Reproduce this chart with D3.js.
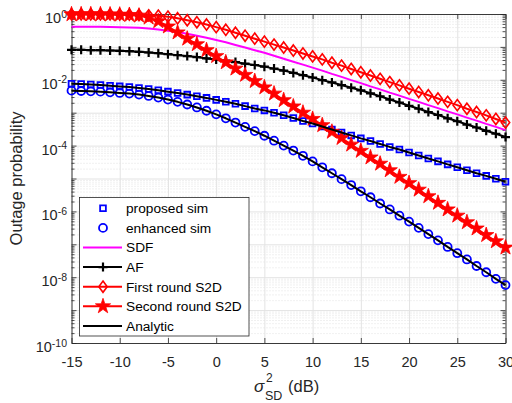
<!DOCTYPE html>
<html>
<head>
<meta charset="utf-8">
<script src="https://cdnjs.cloudflare.com/ajax/libs/d3/7.8.5/d3.min.js"></script>
<style>
  body { margin: 0; background: #fff; }
  svg { display: block; font-family: "Liberation Sans", Arial, Helvetica, sans-serif; }
</style>
</head>
<body>
<div id="chart-area"></div>
<script>
// x axis: sigma^2_SD in dB
const snrDb = [-15,-14,-13,-12,-11,-10,-9,-8,-7,-6,-5,-4,-3,-2,-1,0,1,2,3,4,5,6,7,8,9,10,
               11,12,13,14,15,16,17,18,19,20,21,22,23,24,25,26,27,28,29,30];

// log10 of outage probability
const logProposed = [-2.12,-2.13,-2.14,-2.16,-2.18,-2.20,-2.22,-2.25,-2.28,-2.32,
                     -2.36,-2.40,-2.45,-2.50,-2.55,-2.61,-2.67,-2.73,-2.80,-2.87,
                     -2.93,-3.00,-3.08,-3.16,-3.25,-3.33,-3.42,-3.51,-3.60,-3.69,
                     -3.78,-3.86,-3.95,-4.04,-4.12,-4.21,-4.30,-4.39,-4.48,-4.57,
                     -4.66,-4.75,-4.84,-4.92,-5.01,-5.10];
const logEnhanced = [-2.33,-2.34,-2.35,-2.36,-2.38,-2.40,-2.42,-2.45,-2.49,-2.54,
                     -2.60,-2.67,-2.75,-2.84,-2.94,-3.05,-3.17,-3.30,-3.43,-3.56,
                     -3.70,-3.85,-4.00,-4.15,-4.31,-4.48,-4.66,-4.84,-5.02,-5.20,
                     -5.39,-5.57,-5.76,-5.94,-6.13,-6.31,-6.50,-6.69,-6.88,-7.08,
                     -7.27,-7.46,-7.66,-7.85,-8.05,-8.24];
const logSDF = [-0.39,-0.39,-0.39,-0.39,-0.395,-0.40,-0.41,-0.42,-0.44,-0.47,
                -0.51,-0.55,-0.60,-0.66,-0.72,-0.79,-0.86,-0.94,-1.02,-1.10,
                -1.18,-1.27,-1.36,-1.45,-1.54,-1.63,-1.72,-1.82,-1.91,-2.01,
                -2.10,-2.20,-2.29,-2.39,-2.48,-2.58,-2.67,-2.77,-2.86,-2.96,
                -3.05,-3.15,-3.24,-3.34,-3.43,-3.53];
const logAF = [-1.09,-1.09,-1.10,-1.10,-1.11,-1.12,-1.13,-1.15,-1.17,-1.19,
               -1.22,-1.25,-1.28,-1.31,-1.35,-1.38,-1.42,-1.46,-1.51,-1.55,
               -1.60,-1.66,-1.72,-1.79,-1.86,-1.93,-2.01,-2.08,-2.16,-2.24,
               -2.32,-2.41,-2.50,-2.60,-2.69,-2.79,-2.88,-2.98,-3.07,-3.17,
               -3.26,-3.36,-3.45,-3.55,-3.64,-3.74];
const logFirst = [-0.01,-0.01,-0.01,-0.01,-0.01,-0.015,-0.02,-0.03,-0.04,-0.05,
                  -0.08,-0.13,-0.19,-0.25,-0.32,-0.40,-0.48,-0.57,-0.66,-0.75,
                  -0.84,-0.93,-1.02,-1.11,-1.20,-1.29,-1.38,-1.48,-1.57,-1.67,
                  -1.77,-1.87,-1.97,-2.07,-2.17,-2.27,-2.37,-2.47,-2.57,-2.67,
                  -2.77,-2.88,-2.98,-3.08,-3.19,-3.30];
const logSecond = [-0.01,-0.01,-0.01,-0.01,-0.015,-0.02,-0.03,-0.05,-0.11,-0.22,
                   -0.38,-0.56,-0.75,-0.92,-1.10,-1.28,-1.47,-1.66,-1.85,-2.04,
                   -2.23,-2.42,-2.62,-2.81,-3.00,-3.19,-3.38,-3.58,-3.77,-3.97,
                   -4.16,-4.36,-4.55,-4.75,-4.95,-5.14,-5.34,-5.54,-5.74,-5.94,
                   -6.13,-6.33,-6.52,-6.72,-6.91,-7.10];

const xTicks = [-15,-10,-5,0,5,10,15,20,25,30];
const yDecades = [1e0,1e-1,1e-2,1e-3,1e-4,1e-5,1e-6,1e-7,1e-8,1e-9,1e-10];
const yLabelExp = [0,-2,-4,-6,-8,-10];
const legendNames = ["proposed sim","enhanced sim","SDF","AF","First round S2D","Second round S2D","Analytic"];

const width = 512, height = 403;
const plot = {left: 71.5, right: 505.5, top: 14, bottom: 343};
const axisColor = "#262626";

let svg = d3.select("#chart-area").append("svg")
    .attr("width", width).attr("height", height);

let x = d3.scaleLinear().domain([-15, 30]).range([plot.left, plot.right]);
let y = d3.scaleLog().domain([1e-10, 1]).range([plot.bottom, plot.top]);

const toPts = arr => arr.map((v, i) => ({x: snrDb[i], p: Math.pow(10, v)}));

// minor log ticks from the scale itself
let minorTicks = y.ticks(20).filter(t => Math.abs(Math.log10(t) - Math.round(Math.log10(t))) > 1e-6);

// ---- grid
let grid = svg.append("g");
grid.append("g")
    .attr("transform", `translate(${plot.left},0)`)
    .call(d3.axisLeft(y).tickValues(minorTicks).tickSize(-(plot.right - plot.left)).tickFormat(""))
    .call(g => g.select(".domain").remove())
    .selectAll("line").attr("stroke", "#cfcfcf").attr("stroke-width", 0.6).attr("stroke-dasharray", "1,2");
grid.append("g")
    .attr("transform", `translate(${plot.left},0)`)
    .call(d3.axisLeft(y).tickValues(yDecades).tickSize(-(plot.right - plot.left)).tickFormat(""))
    .call(g => g.select(".domain").remove())
    .selectAll("line").attr("stroke", "#e3e3e3").attr("stroke-width", 1);
grid.append("g")
    .attr("transform", `translate(0,${plot.bottom})`)
    .call(d3.axisBottom(x).tickValues(xTicks).tickSize(-(plot.bottom - plot.top)).tickFormat(""))
    .call(g => g.select(".domain").remove())
    .selectAll("line").attr("stroke", "#e3e3e3").attr("stroke-width", 1);

// ---- axes (ticks inward)
function styleAxis(g) {
    g.select(".domain").attr("stroke", axisColor).attr("stroke-width", 0.9);
    g.selectAll(".tick line").attr("stroke", axisColor).attr("stroke-width", 0.8);
}
let bottomAxis = svg.append("g")
    .attr("transform", `translate(0,${plot.bottom})`)
    .call(d3.axisBottom(x).tickValues(xTicks).tickSizeInner(-5).tickSizeOuter(0).tickPadding(0)
          .tickFormat(d => String(d)))
    .call(styleAxis);
bottomAxis.selectAll(".tick text")
    .attr("y", 23.5).attr("dy", null)
    .attr("fill", axisColor).style("font-size", "14.5px").style("font-family", "inherit");

svg.append("g")
    .attr("transform", `translate(0,${plot.top})`)
    .call(d3.axisTop(x).tickValues(xTicks).tickSizeInner(-5).tickSizeOuter(0).tickFormat(""))
    .call(styleAxis);

svg.append("g")
    .attr("transform", `translate(${plot.left},0)`)
    .call(d3.axisLeft(y).tickValues(yDecades).tickSizeInner(-5).tickSizeOuter(0).tickFormat(""))
    .call(styleAxis);
svg.append("g")
    .attr("transform", `translate(${plot.left},0)`)
    .call(d3.axisLeft(y).tickValues(minorTicks).tickSizeInner(-3).tickSizeOuter(0).tickFormat(""))
    .call(styleAxis).select(".domain").remove();
svg.append("g")
    .attr("transform", `translate(${plot.right},0)`)
    .call(d3.axisRight(y).tickValues(yDecades).tickSizeInner(-5).tickSizeOuter(0).tickFormat(""))
    .call(styleAxis);
svg.append("g")
    .attr("transform", `translate(${plot.right},0)`)
    .call(d3.axisRight(y).tickValues(minorTicks).tickSizeInner(-3).tickSizeOuter(0).tickFormat(""))
    .call(styleAxis).select(".domain").remove();

// y tick labels 10^k
let yLab = svg.append("g").attr("fill", axisColor);
yLabelExp.forEach(function(k) {
    let t = yLab.append("text")
        .attr("x", plot.left - 4.5)
        .attr("y", y(Math.pow(10, k)) + 9)
        .attr("text-anchor", "end")
        .style("font-size", "14.5px");
    t.append("tspan").text("10");
    t.append("tspan").attr("dy", -5.5).style("font-size", "10.5px").text(k === 0 ? "0" : "-" + Math.abs(k));
});

// axis titles
svg.append("text")
    .attr("transform", `translate(22,${(plot.top + plot.bottom) / 2}) rotate(-90)`)
    .attr("text-anchor", "middle")
    .attr("fill", axisColor)
    .style("font-size", "16.5px")
    .text("Outage probability");

let xl = svg.append("g").attr("fill", axisColor);
xl.append("text").attr("x", 254).attr("y", 392).style("font-size", "17px").style("font-style", "italic").text("σ");
xl.append("text").attr("x", 266).attr("y", 382).style("font-size", "12px").text("2");
xl.append("text").attr("x", 265).attr("y", 399.5).style("font-size", "12.5px").text("SD");
xl.append("text").attr("x", 288).attr("y", 392).style("font-size", "16.5px").text("(dB)");

// ---- series
const blue = "#0000ff", red = "#ff0000", magenta = "#ff00ff";
let line = d3.line().x(d => x(d.x)).y(d => y(d.p));

const diamondPath = "M0,-5.6L4.2,0L0,5.6L-4.2,0Z";
const plusPath = "M-4.5,0H4.5M0,-4.5V4.5";
let starSym = d3.symbol(d3.symbolStar).size(72)();
let squareSym = d3.symbol(d3.symbolSquare).size(33)();

function drawMarkers(data, path, stroke, fill, sw) {
    svg.append("g").selectAll("path")
        .data(data)
        .enter()
        .append("path")
        .attr("transform", d => `translate(${x(d.x)},${y(d.p)})`)
        .attr("d", path)
        .attr("fill", fill)
        .attr("stroke", stroke)
        .attr("stroke-width", sw);
}
function drawLine(data, color) {
    svg.append("path").datum(data)
        .attr("d", line).attr("fill", "none")
        .attr("stroke", color).attr("stroke-width", 2)
        .attr("stroke-linejoin", "round");
}

let proposed = toPts(logProposed);
let enhanced = toPts(logEnhanced);

drawMarkers(proposed, squareSym, blue, "none", 1.8);
svg.append("g").selectAll("circle")
    .data(enhanced)
    .enter()
    .append("circle")
    .attr("cx", d => x(d.x)).attr("cy", d => y(d.p)).attr("r", 4)
    .attr("fill", "none").attr("stroke", blue).attr("stroke-width", 1.8);

drawLine(toPts(logSDF), magenta);

drawLine(toPts(logAF), "#000");
drawMarkers(toPts(logAF), plusPath, "#000", "none", 2.2);

drawLine(toPts(logFirst), red);
drawMarkers(toPts(logFirst), diamondPath, red, "none", 1.6);

drawLine(toPts(logSecond), red);
drawMarkers(toPts(logSecond), starSym, red, red, 0.8);

// analytic curves
drawLine(proposed, "#000");
drawLine(enhanced, "#000");

// ---- legend
let lg = svg.append("g");
lg.append("rect")
    .attr("x", 79.5).attr("y", 197.5).attr("width", 169.5).attr("height", 138.5)
    .attr("fill", "#fff").attr("stroke", axisColor).attr("stroke-width", 0.8);

legendNames.forEach(function(name, i) {
    let cy = 208.3 + i * 19.6;
    let row = lg.append("g");
    if (i >= 2) {
        row.append("line").attr("x1", 83).attr("x2", 122).attr("y1", cy).attr("y2", cy)
            .attr("stroke", [magenta, "#000", red, red, "#000"][i - 2]).attr("stroke-width", 2);
    }
    let mk = [squareSym, null, null, plusPath, diamondPath, starSym, null][i];
    if (i === 1) {
        row.append("circle").attr("cx", 103).attr("cy", cy).attr("r", 4)
            .attr("fill", "none").attr("stroke", blue).attr("stroke-width", 1.8);
    } else if (mk) {
        row.append("path").attr("transform", `translate(103,${cy})`).attr("d", mk)
            .attr("fill", i === 5 ? red : "none")
            .attr("stroke", [blue, blue, null, "#000", red, red][i])
            .attr("stroke-width", [1.8, 1.8, 0, 2.2, 1.6, 0.8][i]);
    }
    row.append("text").attr("x", 126).attr("y", cy + 4.8)
        .attr("fill", "#000").style("font-size", "13.7px").text(name);
});
</script>
</body>
</html>
